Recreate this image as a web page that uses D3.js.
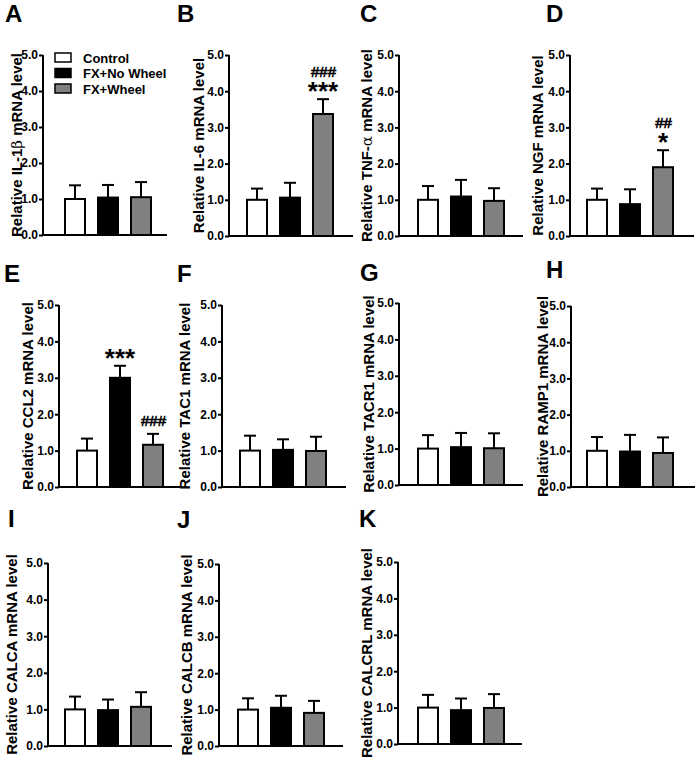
<!DOCTYPE html>
<html>
<head>
<meta charset="utf-8">
<script src="https://cdn.jsdelivr.net/npm/d3@7"></script>
<style>
  body { margin: 0; background: #fff; }
  svg { display: block; }
</style>
</head>
<body>
<svg id="chart" width="696" height="764" font-family="'Liberation Sans', Arial, sans-serif" font-weight="bold"></svg>
<script>
// ---------- DATA ----------
const groups = ["Control", "FX+No Wheel", "FX+Wheel"];
const panelLetters = ["A", "B", "C", "D", "E", "F", "G", "H", "I", "J", "K"];
// gene name split as prefix + greek letter so greek letters can use a symbol-like font
const genePrefix = ["IL-1", "IL-6", "TNF-", "NGF", "CCL2", "TAC1", "TACR1", "RAMP1", "CALCA", "CALCB", "CALCRL"];
const geneGreek  = ["β", "", "α", "", "", "", "", "", "", "", ""];
const means = [
  [1.00, 1.04, 1.05],
  [1.00, 1.06, 3.37],
  [1.00, 1.09, 0.97],
  [1.00, 0.88, 1.90],
  [1.00, 3.00, 1.16],
  [1.00, 1.02, 0.99],
  [1.00, 1.04, 1.01],
  [1.00, 0.98, 0.94],
  [1.00, 0.98, 1.07],
  [1.00, 1.05, 0.91],
  [1.00, 0.93, 0.99]
];
const sems = [
  [0.38, 0.35, 0.42],
  [0.31, 0.41, 0.41],
  [0.38, 0.46, 0.35],
  [0.31, 0.41, 0.47],
  [0.33, 0.33, 0.30],
  [0.41, 0.29, 0.39],
  [0.37, 0.39, 0.41],
  [0.38, 0.46, 0.43],
  [0.35, 0.29, 0.40],
  [0.31, 0.33, 0.33],
  [0.35, 0.32, 0.38]
];
const starMarks = [
  ["", "", ""], ["", "", "***"], ["", "", ""], ["", "", "*"],
  ["", "***", ""], ["", "", ""], ["", "", ""], ["", "", ""],
  ["", "", ""], ["", "", ""], ["", "", ""]
];
const hashMarks = [
  ["", "", ""], ["", "", "###"], ["", "", ""], ["", "", "##"],
  ["", "", "###"], ["", "", ""], ["", "", ""], ["", "", ""],
  ["", "", ""], ["", "", ""], ["", "", ""]
];
const yTickValues = [0, 1, 2, 3, 4, 5];
const yDomain = [0, 5];

// ---------- LAYOUT ----------
// [axisX, yTop(5.0), yBottom(0.0), firstBarX, letterX, letterBaseline, labelCenterX]
const layout = [
  [43, 55, 235, 64, 5, 22, 17],
  [229, 55, 236, 246, 177, 22, 199],
  [399, 55, 236, 417, 360, 22, 367],
  [570, 55, 236, 586, 546, 22, 538],
  [59, 305, 487, 76, 4, 282, 28],
  [222, 305, 487, 239, 177, 282, 185],
  [399, 303, 485, 417, 360, 281, 369],
  [571, 306, 487, 586, 546, 278, 543],
  [48, 563, 746, 64, 8, 527, 12],
  [219, 564, 746, 237, 177, 528, 187],
  [398, 562, 744, 417, 359, 527, 367]
];
const axisLen = 124;
const fills = ["#ffffff", "#000000", "#808080"];

const svg = d3.select("#chart");

genePrefix.forEach((g, i) => {
  const [ax, yT, yB, bx, lx, ly, labX] = layout[i];
  const gp = svg.append("g");

  const y = d3.scaleLinear().domain(yDomain).range([yB, yT]);
  const x = d3.scaleBand().domain(groups).range([bx, bx + 88]).paddingInner(1 / 3).paddingOuter(0);

  const data = groups.map((grp, j) => ({ grp, j, m: means[i][j], s: sems[i][j] }));

  // error bars (drawn first, bars cover lower part)
  const eb = gp.append("g").attr("stroke", "#000").attr("stroke-width", 2);
  eb.selectAll("line.v").data(data).join("line")
    .attr("x1", d => x(d.grp) + x.bandwidth() / 2)
    .attr("x2", d => x(d.grp) + x.bandwidth() / 2)
    .attr("y1", d => y(d.m))
    .attr("y2", d => y(d.m + d.s));
  eb.selectAll("line.c").data(data).join("line")
    .attr("x1", d => x(d.grp) + x.bandwidth() / 2 - 6)
    .attr("x2", d => x(d.grp) + x.bandwidth() / 2 + 6)
    .attr("y1", d => y(d.m + d.s))
    .attr("y2", d => y(d.m + d.s));

  gp.append("g").selectAll("rect").data(data).join("rect")
    .attr("x", d => x(d.grp) + 1)
    .attr("width", x.bandwidth() - 2)
    .attr("y", d => y(d.m))
    .attr("height", d => y(0) - y(d.m))
    .attr("fill", d => fills[d.j])
    .attr("stroke", "#000")
    .attr("stroke-width", 2);

  // axes
  const yAxis = d3.axisLeft(y).tickValues(yTickValues).tickFormat(d3.format(".1f")).tickSize(4).tickPadding(1);
  const ya = gp.append("g").attr("transform", `translate(${ax},0)`).call(yAxis)
    .attr("font-family", null).attr("font-size", 12);
  ya.select(".domain").attr("stroke-width", 2).attr("d", `M0,${yT}V${yB}`);
  ya.selectAll(".tick line").attr("stroke-width", 2);
  ya.selectAll(".tick text").attr("fill", "#000");

  gp.append("line")
    .attr("x1", ax - 1).attr("x2", ax + axisLen)
    .attr("y1", y(0)).attr("y2", y(0))
    .attr("stroke", "#000").attr("stroke-width", 2);

  // y label
  const lab = gp.append("text")
    .attr("transform", `translate(${labX + 5},${(yT + yB) / 2}) rotate(-90)`)
    .attr("text-anchor", "middle")
    .attr("font-size", 15);
  lab.append("tspan").text("Relative " + g);
  if (geneGreek[i]) {
    lab.append("tspan").text(geneGreek[i])
      .attr("font-family", "'DejaVu Serif', 'Liberation Serif', serif")
      .attr("font-weight", "normal");
  }
  lab.append("tspan").text(" mRNA level");

  // panel letter
  gp.append("text").attr("x", lx).attr("y", ly).attr("font-size", 24).text(panelLetters[i]);

  // significance marks
  data.forEach(d => {
    const cx = x(d.grp) + x.bandwidth() / 2;
    const top = y(d.m + d.s);
    const st = starMarks[i][d.j];
    const hs = hashMarks[i][d.j];
    if (st) {
      gp.append("text").attr("x", cx).attr("y", top + 1)
        .attr("text-anchor", "middle").attr("font-size", 26).text(st);
    }
    if (hs) {
      gp.append("text").attr("x", cx + 0.5).attr("y", st ? top - 22 : top - 8)
        .attr("text-anchor", "middle").attr("font-size", 15).attr("font-weight", "normal")
        .attr("stroke", "#000").attr("stroke-width", 0.6).text(hs);
    }
  });
});

// legend (panel A)
const legend = svg.append("g");
groups.forEach((grp, j) => {
  legend.append("rect")
    .attr("x", 55).attr("y", 53 + j * 15.5)
    .attr("width", 16).attr("height", 9)
    .attr("fill", fills[j]).attr("stroke", "#000").attr("stroke-width", 1.5);
  legend.append("text")
    .attr("x", 83).attr("y", 62.5 + j * 15.5)
    .attr("font-size", 13).text(grp);
});
</script>
</body>
</html>
